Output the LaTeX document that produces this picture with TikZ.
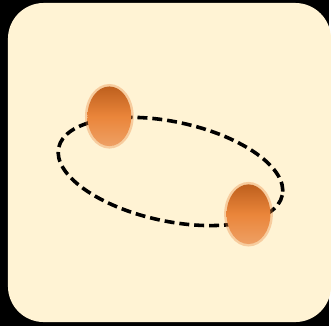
\documentclass[tikz,border=0pt]{standalone}
\usepackage{tikz}
\usepackage{xcolor}
\usetikzlibrary{shapes.geometric}

\definecolor{cream}{RGB}{255,243,212}
\definecolor{balltop}{RGB}{190,96,30}
\definecolor{ballmid}{RGB}{234,133,58}
\definecolor{ballbot}{RGB}{238,160,100}

\begin{document}
\begin{tikzpicture}[
  x=1pt,y=-1pt,  orbit/.style={draw=black,line width=3.6pt,dash pattern=on 10pt off 5pt},  ball/.style={ellipse,inner sep=0pt,minimum width=44pt,minimum height=60pt,top color=balltop,bottom color=ballbot,middle color=ballmid},  halo/.style={ellipse,inner sep=0pt,minimum width=49pt,minimum height=65pt,fill=ballmid,opacity=0.35}
]
  \fill[black] (0,0) rectangle (331,328);
  \fill[cream,rounded corners=36pt] (8,3) rectangle (333,324);
  \draw[orbit] (171.5,172.5) ellipse[x radius=115,y radius=50,rotate=-12];
  \node[halo] (h1) at (110,117) {};
  \node[halo] (h2) at (250,215.5) {};
  \node[ball] (b1) at (110,117) {};
  \node[ball] (b2) at (250,215.5) {};
\end{tikzpicture}
\end{document}
